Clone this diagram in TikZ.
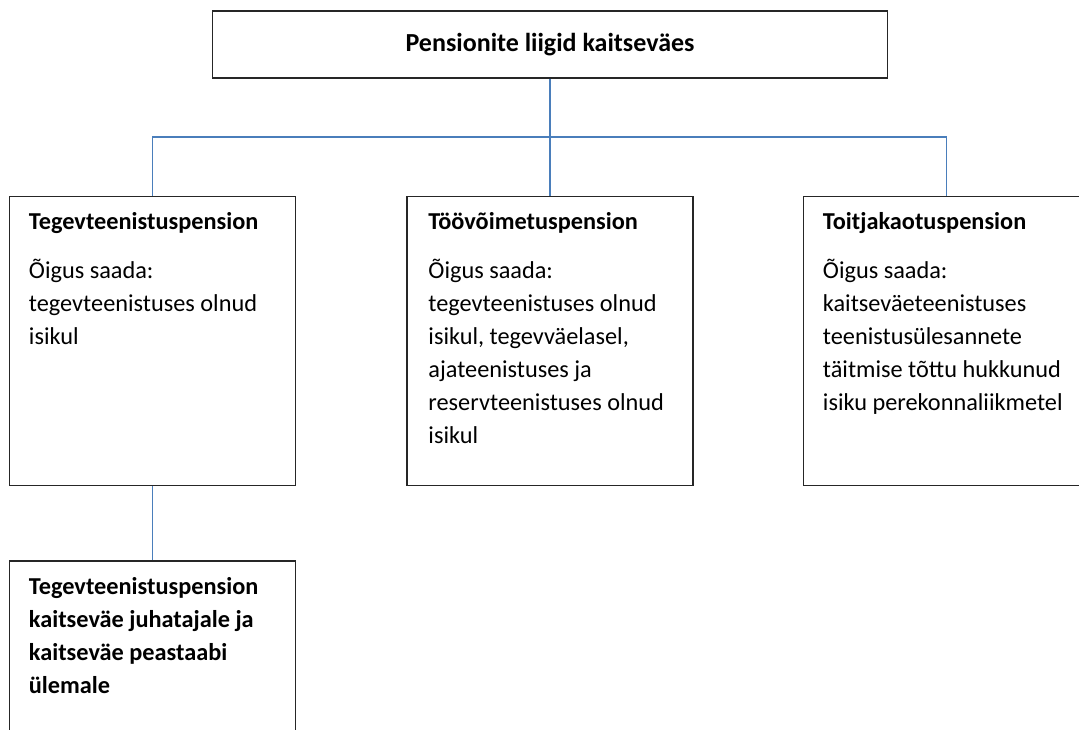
\documentclass[tikz,border=0pt]{standalone}
\usepackage{fontspec}
\setmainfont{Carlito}
\usetikzlibrary{positioning}
\definecolor{linkblue}{RGB}{74,126,187}

\begin{document}
\begin{tikzpicture}[x=1pt,y=1pt,node distance=110pt]
  \tikzstyle{box}=[rectangle,draw=black!85,line width=1.5pt,
                   minimum width=286pt,minimum height=289pt,inner sep=0pt]
  \tikzstyle{head}=[box,minimum width=675pt,minimum height=67pt,
                    font=\fontsize{26}{30}\selectfont\bfseries]
  \tikzstyle{body}=[anchor=north west,inner sep=0pt,text width=262pt,
                    align=flush left,font=\fontsize{24.3}{33}\selectfont]
  \tikzstyle{link}=[draw=linkblue,line width=1.5pt]

  \useasboundingbox (0,0) rectangle (1079,-729);
  \clip (0,0) rectangle (1079,-729);

  % the boxes
  \node [head] (top) at (550,-44.5) {\raisebox{2.5pt}{Pensionite liigid kaitseväes}};
  \node [box] (b2) [below=117pt of top] {};
  \node [box] (b1) [left=of b2] {};
  \node [box] (b3) [right=109pt of b2] {};
  \node [box,minimum height=200pt] (b4) [below=74pt of b1] {};

  % connectors
  \path (top.south) ++(0,-58) coordinate (bus);
  \draw [link] (top.south) -- (b2.north);
  \draw [link] (b1.north) |- (bus) -| (b3.north);
  \draw [link] (b1.south) -- (b4.north);

  % texts
  \node [body] (t1) at ([xshift=20pt,yshift=-14pt]b1.north west)
    {\rule{0pt}{20pt}\textbf{Tegevteenistuspension}\\[16pt]
     Õigus saada:\\ tegevteenistuses olnud\\ isikul};
  \node [body] (t2) at ([xshift=22pt,yshift=-14pt]b2.north west)
    {\rule{0pt}{20pt}\textbf{Töövõimetuspension}\\[16pt]
     Õigus saada:\\ tegevteenistuses olnud\\ isikul, tegevväelasel,\\
     ajateenistuses ja\\ reservteenistuses olnud\\ isikul};
  \node [body] (t3) at ([xshift=20pt,yshift=-14pt]b3.north west)
    {\rule{0pt}{20pt}\textbf{Toitjakaotuspension}\\[16pt]
     Õigus saada:\\ kaitseväeteenistuses\\ teenistusülesannete\\
     täitmise tõttu hukkunud\\ isiku perekonnaliikmetel};
  \node [body,font=\fontsize{24.3}{33}\selectfont\bfseries] (t4)
    at ([xshift=20pt,yshift=-14pt]b4.north west)
    {\rule{0pt}{20pt}Tegevteenistuspension\\ kaitseväe juhatajale ja\\
     kaitseväe peastaabi\\ ülemale};
\end{tikzpicture}
\end{document}
